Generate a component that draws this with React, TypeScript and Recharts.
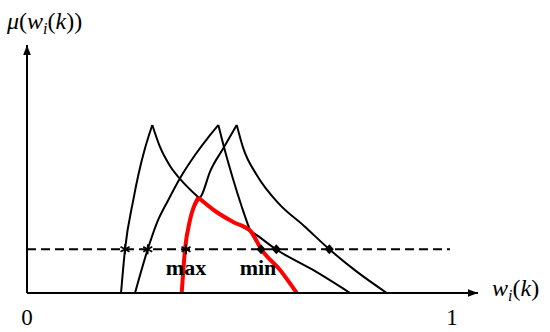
import { ComposedChart, Line, XAxis, YAxis, ReferenceDot, Label } from "recharts";

// membership curves, x = w_i(k), y = mu
const aLeft = [[0.2212, 0], [0.2306, 0.26], [0.2501, 0.554], [0.2619, 0.702], [0.2776, 0.861], [0.2948, 1]];
const aRight = [[0.2948, 1], [0.3129, 0.869], [0.3365, 0.756], [0.36, 0.679], [0.4024, 0.571], [0.4424, 0.488], [0.4847, 0.423], [0.5294, 0.363], [0.5882, 0.256], [0.6729, 0.137], [0.76, 0]];
const bLeft = [[0.2541, 0], [0.284, 0.26], [0.3052, 0.415], [0.3325, 0.554], [0.36, 0.683], [0.3953, 0.821], [0.4306, 0.94], [0.4501, 1]];
const bRight = [[0.4501, 1], [0.4659, 0.845], [0.4854, 0.673], [0.5047, 0.518], [0.5247, 0.375], [0.5522, 0.256], [0.5953, 0.137], [0.6346, 0]];
const cLeft = [[0.364, 0], [0.3718, 0.26], [0.3835, 0.435], [0.4031, 0.554], [0.4111, 0.583], [0.4306, 0.722], [0.4619, 0.861], [0.4934, 1]];
const cRight = [[0.4934, 1], [0.5089, 0.861], [0.5405, 0.702], [0.5929, 0.53], [0.6518, 0.399], [0.7113, 0.26], [0.7758, 0.127], [0.8464, 0]];

// red composed curve
const redUp = [[0.364, 0], [0.3718, 0.26], [0.3835, 0.435], [0.403, 0.568]];
const redDown = [[0.403, 0.568], [0.4424, 0.488], [0.4847, 0.423], [0.5259, 0.369], [0.5522, 0.256], [0.5953, 0.137], [0.6346, 0]];

// cut level and markers
const cut = [[0, 0.26], [0.995, 0.26]];
const stars = [[0.2306, 0.26], [0.284, 0.26], [0.3741, 0.26]];
const diamonds = [[0.5506, 0.26], [0.5866, 0.26], [0.7113, 0.26]];
const xTicks = [0, 1];
const notes = [{ x: 0.3741, y: 0.155, text: "max" }, { x: 0.5435, y: 0.155, text: "min" }];

const pts = (arr: number[][]) => arr.map(([x, y]) => ({ x, y }));
const FONT = "Liberation Serif, Times New Roman, serif";

const Star = (p: any) => (
  <g key={`s${p.index}`} stroke="#000" strokeWidth={1.7}>
    <line x1={p.cx} y1={p.cy - 5} x2={p.cx} y2={p.cy + 5} />
    <line x1={p.cx - 4.5} y1={p.cy - 2.5} x2={p.cx + 4.5} y2={p.cy + 2.5} />
    <line x1={p.cx - 4.5} y1={p.cy + 2.5} x2={p.cx + 4.5} y2={p.cy - 2.5} />
  </g>
);

const Diamond = (p: any) => (
  <path
    key={`d${p.index}`}
    d={`M${p.cx},${p.cy - 5} L${p.cx + 4.5},${p.cy} L${p.cx},${p.cy + 5} L${p.cx - 4.5},${p.cy} Z`}
    fill="#000"
  />
);

const XTick = ({ x, payload }: any) => (
  <text x={x} y={325} textAnchor="middle" fontSize={23} fontFamily={FONT} fill="#000">
    {payload.value}
  </text>
);

const black = { stroke: "#000", strokeWidth: 2, dot: false, isAnimationActive: false, type: "monotone" as const };

export default function App() {
  return (
    <div style={{ position: "absolute", left: 0, top: 0, background: "#fff" }}>
      <ComposedChart width={550} height={332} margin={{ top: 45, right: 72, bottom: 0, left: 0 }}>
        <XAxis
          dataKey="x"
          type="number"
          domain={[0, 1.061]}
          allowDataOverflow
          ticks={xTicks}
          tick={<XTick />}
          tickLine={false}
          height={39}
          axisLine={{ stroke: "#000", strokeWidth: 2 }}
        >
          <Label
            content={() => (
              <text x={492} y={296} fontSize={24} fontFamily={FONT} fill="#000">
                <tspan fontStyle="italic">w</tspan>
                <tspan fontStyle="italic" fontSize={16} dy={5}>i</tspan>
                <tspan dy={-5}>(</tspan>
                <tspan fontStyle="italic">k</tspan>
                <tspan>)</tspan>
              </text>
            )}
          />
        </XAxis>
        <YAxis
          type="number"
          domain={[0, 1.476]}
          allowDataOverflow
          width={27}
          tick={false}
          tickLine={false}
          axisLine={{ stroke: "#000", strokeWidth: 2 }}
        >
          <Label
            content={() => (
              <text x={7} y={29} fontSize={24} fontFamily={FONT} fill="#000">
                <tspan fontStyle="italic">μ</tspan>
                <tspan>(</tspan>
                <tspan fontStyle="italic">w</tspan>
                <tspan fontStyle="italic" fontSize={16} dy={5}>i</tspan>
                <tspan dy={-5}>(</tspan>
                <tspan fontStyle="italic">k</tspan>
                <tspan>))</tspan>
              </text>
            )}
          />
        </YAxis>

        <Line data={pts(aLeft)} dataKey="y" {...black} />
        <Line data={pts(aRight)} dataKey="y" {...black} />
        <Line data={pts(bLeft)} dataKey="y" {...black} />
        <Line data={pts(bRight)} dataKey="y" {...black} />
        <Line data={pts(cLeft)} dataKey="y" {...black} />
        <Line data={pts(cRight)} dataKey="y" {...black} />

        <Line data={pts(redUp)} dataKey="y" type="monotone" stroke="#ff0000" strokeWidth={4} dot={false} isAnimationActive={false} />
        <Line data={pts(redDown)} dataKey="y" type="monotone" stroke="#ff0000" strokeWidth={4} dot={false} isAnimationActive={false} />

        <Line data={pts(cut)} dataKey="y" type="linear" stroke="#000" strokeWidth={2} strokeDasharray="9 5" dot={false} isAnimationActive={false} />
        <Line data={pts(stars)} dataKey="y" stroke="none" dot={(p: any) => <Star {...p} />} isAnimationActive={false} />
        <Line data={pts(diamonds)} dataKey="y" stroke="none" dot={(p: any) => <Diamond {...p} />} isAnimationActive={false} />

        <ReferenceDot
          x={1.061}
          y={0}
          ifOverflow="visible"
          shape={(p: any) => <path d={`M${p.cx},${p.cy} l-10,-3.8 l0,7.6 z`} fill="#000" />}
        />
        <ReferenceDot
          x={0}
          y={1.476}
          ifOverflow="visible"
          shape={(p: any) => <path d={`M${p.cx},${p.cy} l-3.8,10 l7.6,0 z`} fill="#000" />}
        />
        {notes.map((n) => (
          <ReferenceDot
            key={n.text}
            x={n.x}
            y={n.y}
            ifOverflow="visible"
            shape={() => null}
            label={{ value: n.text, position: "center", fontSize: 22, fontWeight: "bold", fontFamily: FONT, fill: "#000" }}
          />
        ))}
      </ComposedChart>
    </div>
  );
}
